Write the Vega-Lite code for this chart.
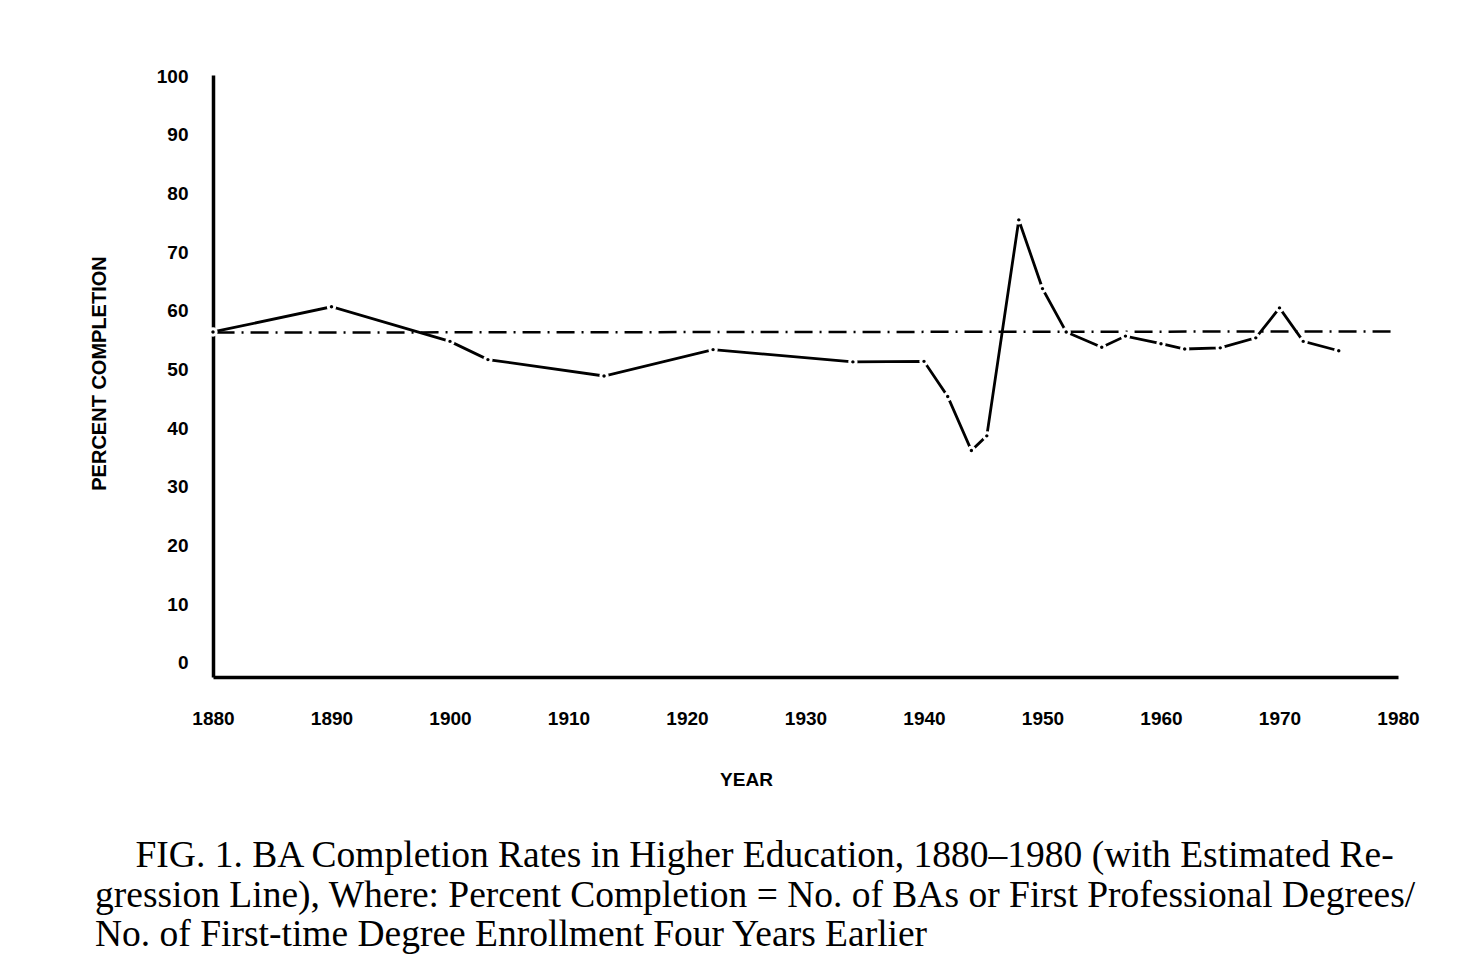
{
  "$schema": "https://vega.github.io/schema/vega-lite/v6.json",
  "autosize": {"type": "none"},
  "width": 1185,
  "height": 602,
  "padding": {"left": 213, "top": 75, "right": 77, "bottom": 295},
  "background": "white",
  "config": {"view": {"stroke": null}},
  "title": {
    "text": [
      "\u2800\u2004FIG. 1. BA Completion Rates in Higher Education, 1880\u20131980 (with Estimated Re-",
      "gression Line), Where: Percent Completion = No. of BAs or First Professional Degrees/",
      "No. of First-time Degree Enrollment Four Years Earlier"
    ],
    "orient": "bottom",
    "anchor": "start",
    "frame": "group",
    "dx": -118,
    "offset": 48,
    "font": "Liberation Serif",
    "fontSize": 37.5,
    "fontWeight": "normal",
    "lineHeight": 39.5,
    "color": "black"
  },
  "datasets": {
    "series": [
      {"year": 1880, "pct": 56.4},
      {"year": 1890, "pct": 60.7},
      {"year": 1900, "pct": 54.8},
      {"year": 1903.2, "pct": 51.7},
      {"year": 1913, "pct": 48.9},
      {"year": 1922.2, "pct": 53.4},
      {"year": 1934, "pct": 51.3},
      {"year": 1940, "pct": 51.4},
      {"year": 1942, "pct": 45.4},
      {"year": 1944, "pct": 36.2},
      {"year": 1945.3, "pct": 38.7},
      {"year": 1948, "pct": 75.5},
      {"year": 1950, "pct": 63.8},
      {"year": 1952, "pct": 56.4},
      {"year": 1955, "pct": 53.8},
      {"year": 1957, "pct": 55.7},
      {"year": 1960, "pct": 54.4},
      {"year": 1962, "pct": 53.5},
      {"year": 1965, "pct": 53.7},
      {"year": 1968, "pct": 55.4},
      {"year": 1970, "pct": 60.5},
      {"year": 1972, "pct": 54.8},
      {"year": 1975, "pct": 53.2}
    ],
    "regression": [
      {"year": 1880.3, "pct": 56.3},
      {"year": 1979.5, "pct": 56.5}
    ]
  },
  "encoding": {
    "x": {
      "field": "year",
      "type": "quantitative",
      "scale": {"domain": [1880, 1980], "nice": false, "zero": false},
      "axis": {
        "values": [1880, 1890, 1900, 1910, 1920, 1930, 1940, 1950, 1960, 1970, 1980],
        "format": "d",
        "grid": false,
        "ticks": false,
        "tickSize": 0,
        "domainColor": "black",
        "domainWidth": 3.5,
        "labelFont": "Liberation Sans",
        "labelFontSize": 19,
        "labelFontWeight": "bold",
        "labelColor": "black",
        "labelBaseline": "middle",
        "labelPadding": 41,
        "labelFlush": false,
        "labelOverlap": false,
        "title": "YEAR",
        "titleFont": "Liberation Sans",
        "titleFontSize": 19,
        "titleFontWeight": "bold",
        "titleColor": "black",
        "titleX": 533,
        "titleY": 102,
        "titleAlign": "center",
        "titleBaseline": "middle"
      }
    },
    "y": {
      "field": "pct",
      "type": "quantitative",
      "scale": {"domain": [-2.4, 100.2], "nice": false, "zero": false},
      "axis": {
        "values": [0, 10, 20, 30, 40, 50, 60, 70, 80, 90, 100],
        "grid": false,
        "ticks": false,
        "tickSize": 0,
        "domainColor": "black",
        "domainWidth": 3.5,
        "labelFont": "Liberation Sans",
        "labelFontSize": 19,
        "labelFontWeight": "bold",
        "labelColor": "black",
        "labelAlign": "right",
        "labelBaseline": "middle",
        "labelPadding": 25,
        "labelOverlap": false,
        "title": "PERCENT COMPLETION",
        "titleFont": "Liberation Sans",
        "titleFontSize": 20,
        "titleFontWeight": "bold",
        "titleColor": "black",
        "titleAngle": -90,
        "titleX": -114,
        "titleY": 298,
        "titleAlign": "center",
        "titleBaseline": "middle"
      }
    }
  },
  "layer": [
    {
      "data": {"name": "regression"},
      "mark": {"type": "line", "color": "black", "strokeWidth": 2.5, "strokeDash": [18, 7, 2, 7]}
    },
    {
      "data": {"name": "series"},
      "mark": {"type": "line", "color": "black", "strokeWidth": 2.8}
    },
    {
      "data": {"name": "series"},
      "mark": {"type": "point", "filled": true, "fill": "black", "stroke": "white", "strokeWidth": 3, "size": 40, "opacity": 1, "strokeOpacity": 1}
    }
  ]
}
